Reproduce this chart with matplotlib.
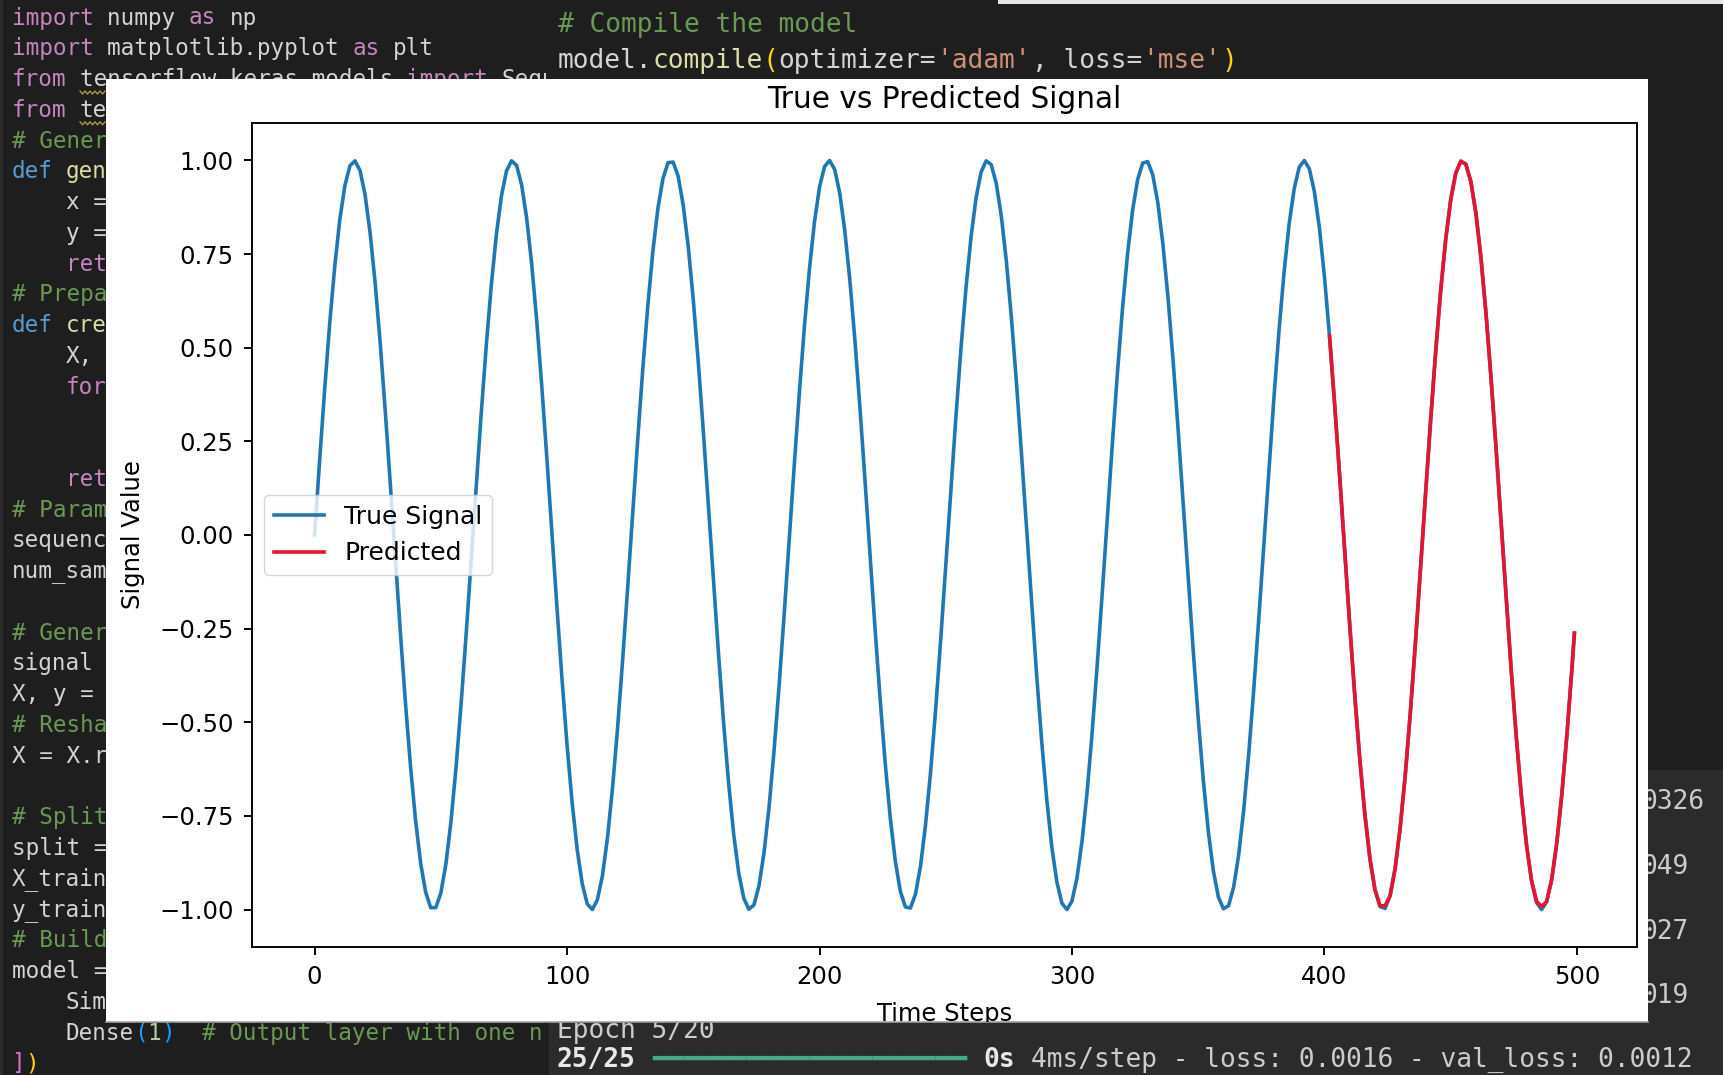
import numpy as np
import matplotlib
matplotlib.use("Agg")
import matplotlib.pyplot as plt
from matplotlib.patches import Rectangle
from matplotlib.transforms import Bbox

W, H = 1723, 1075

# signal every 2 time steps (plus the last step, 499)
time_steps = list(range(0, 500, 2)) + [499]
true_signal = [
    0.000, 0.199, 0.390, 0.566, 0.718, 0.843, 0.933, 0.986, 0.999, 0.973,
    0.908, 0.806, 0.672, 0.511, 0.330, 0.135, -0.065, -0.262, -0.449, -0.618,
    -0.762, -0.876, -0.954, -0.995, -0.995, -0.956, -0.879, -0.766, -0.623, -0.454,
    -0.268, -0.071, 0.129, 0.324, 0.506, 0.667, 0.802, 0.905, 0.972, 0.999,
    0.987, 0.935, 0.846, 0.723, 0.571, 0.396, 0.205, 0.006, -0.193, -0.385,
    -0.561, -0.714, -0.839, -0.931, -0.985, -1.000, -0.974, -0.910, -0.809, -0.676,
    -0.516, -0.335, -0.141, 0.059, 0.256, 0.444, 0.613, 0.758, 0.873, 0.952,
    0.994, 0.996, 0.958, 0.881, 0.770, 0.627, 0.460, 0.274, 0.077, -0.123,
    -0.318, -0.501, -0.663, -0.799, -0.903, -0.970, -0.999, -0.988, -0.937, -0.849,
    -0.727, -0.575, -0.401, -0.211, -0.012, 0.187, 0.379, 0.556, 0.710, 0.836,
    0.929, 0.984, 1.000, 0.976, 0.913, 0.813, 0.681, 0.521, 0.341, 0.147,
    -0.053, -0.251, -0.438, -0.608, -0.754, -0.870, -0.951, -0.993, -0.996, -0.959,
    -0.884, -0.773, -0.632, -0.465, -0.279, -0.083, 0.117, 0.313, 0.496, 0.659,
    0.795, 0.900, 0.969, 0.999, 0.989, 0.939, 0.852, 0.731, 0.580, 0.407,
    0.216, 0.018, -0.182, -0.374, -0.551, -0.706, -0.833, -0.926, -0.983, -1.000,
    -0.977, -0.915, -0.816, -0.685, -0.526, -0.346, -0.153, 0.047, 0.245, 0.433,
    0.604, 0.750, 0.867, 0.949, 0.993, 0.997, 0.961, 0.887, 0.777, 0.636,
    0.470, 0.285, 0.088, -0.112, -0.307, -0.490, -0.654, -0.792, -0.897, -0.967,
    -0.998, -0.990, -0.941, -0.855, -0.735, -0.585, -0.412, -0.222, -0.024, 0.176,
    0.368, 0.546, 0.702, 0.830, 0.924, 0.982, 1.000, 0.978, 0.917, 0.820,
    0.689, 0.531, 0.352, 0.159, -0.041, -0.239, -0.428, -0.599, -0.746, -0.864,
    -0.947, -0.992, -0.997, -0.963, -0.890, -0.781, -0.641, -0.475, -0.291, -0.094,
    0.106, 0.302, 0.485, 0.650, 0.788, 0.895, 0.966, 0.998, 0.990, 0.943,
    0.858, 0.739, 0.590, 0.417, 0.228, 0.030, -0.170, -0.363, -0.541, -0.697,
    -0.826, -0.922, -0.981, -1.000, -0.979, -0.920, -0.823, -0.694, -0.536, -0.358,
    -0.262,
]

pred_steps = list(range(402, 500, 2)) + [499]
predicted = [
    0.531, 0.352, 0.159, -0.041, -0.239, -0.428, -0.599, -0.746, -0.864,
    -0.947, -0.990, -0.990, -0.963, -0.890, -0.781, -0.641, -0.475, -0.291, -0.094,
    0.106, 0.302, 0.485, 0.650, 0.788, 0.895, 0.966, 0.998, 0.990, 0.943,
    0.858, 0.739, 0.590, 0.417, 0.228, 0.030, -0.170, -0.363, -0.541, -0.697,
    -0.826, -0.922, -0.978, -0.992, -0.979, -0.920, -0.823, -0.694, -0.536, -0.358,
    -0.262,
]

fig = plt.figure(figsize=(W / 100, H / 100), dpi=100)
fig.patch.set_facecolor("#1e1e1e")


def fx(px):
    return px / W


def fy(py):
    return 1 - py / H


def rect(x0, y0, x1, y1, color, z):
    fig.add_artist(Rectangle((fx(x0), fy(y1)), (x1 - x0) / W, (y1 - y0) / H,
                             transform=fig.transFigure, facecolor=color,
                             edgecolor="none", zorder=z))


MONO = "DejaVu Sans Mono"
WHITE = "#d4d4d4"
PURPLE = "#c586c0"
BLUE = "#569cd6"
YELLOW = "#dcdcaa"
GREEN = "#6a9955"
ORANGE = "#ce9178"
GOLD = "#ffd700"


def code_line(x0, y, parts, cw, clip_x=None, bold=()):
    size = cw * 72 / (0.6016 * 100)
    col = 0
    for text, color in parts:
        stripped = text.lstrip(" ")
        col += len(text) - len(stripped)
        t = fig.text(fx(x0 + col * cw), fy(y), stripped, color=color, fontsize=size,
                     family=MONO, ha="left", va="center", zorder=-1,
                     weight="bold" if stripped in bold else "normal")
        if clip_x is not None:
            t.set_clip_box(Bbox.from_extents(0, 0, clip_x, H))
            t.set_clip_on(True)
        col += len(stripped)


# editor / terminal backgrounds
rect(0, 0, 3, H, "#2a2a2a", -3)
rect(549, 770, W, H, "#2b2b2b", -3)
rect(998, 0, W, 3.5, "#e6e6e6", -3)

left_lines = {
    0: [("import", PURPLE), (" numpy ", WHITE), ("as", PURPLE), (" np", WHITE)],
    1: [("import", PURPLE), (" matplotlib.pyplot ", WHITE), ("as", PURPLE), (" plt", WHITE)],
    2: [("from", PURPLE), (" tensorflow.keras.models ", WHITE), ("import", PURPLE), (" Sequ", WHITE)],
    3: [("from", PURPLE), (" te", WHITE)],
    4: [("# Gener", GREEN)],
    5: [("def", BLUE), (" gen", YELLOW)],
    6: [("    x =", WHITE)],
    7: [("    y =", WHITE)],
    8: [("    ret", PURPLE)],
    9: [("# Prepa", GREEN)],
    10: [("def", BLUE), (" cre", YELLOW)],
    11: [("    X,", WHITE)],
    12: [("    for", PURPLE)],
    15: [("    ret", PURPLE)],
    16: [("# Param", GREEN)],
    17: [("sequenc", WHITE)],
    18: [("num_sam", WHITE)],
    20: [("# Gener", GREEN)],
    21: [("signal", WHITE)],
    22: [("X, y =", WHITE)],
    23: [("# Resha", GREEN)],
    24: [("X = X.r", WHITE)],
    26: [("# Split", GREEN)],
    27: [("split =", WHITE)],
    28: [("X_train", WHITE)],
    29: [("y_train", WHITE)],
    30: [("# Build", GREEN)],
    31: [("model =", WHITE)],
    32: [("    Sim", WHITE)],
    33: [("    Dense", WHITE), ("(", "#179fff"), ("1", "#b5cea8"), (")", "#179fff"),
         ("  # Output layer with one n", GREEN)],
    34: [("]", "#da70d6"), (")", GOLD)],
}
for i, parts in left_lines.items():
    code_line(11.5, 18.0 + 30.76 * i, parts, 13.62, clip_x=549)

# wavy underline under "te" of tensorflow
for yl in (18.0 + 30.76 * 2 + 13, 18.0 + 30.76 * 3 + 13):
    xs = np.arange(80, 106, 2.5)
    ys = yl + np.where(np.arange(len(xs)) % 2 == 0, -1.5, 1.5)
    fig.add_artist(plt.Line2D(fx(xs), fy(ys), transform=fig.transFigure,
                              color="#b8a24a", lw=0.9, zorder=-1))

code_line(557.5, 25.5, [("# Compile the model", GREEN)], 15.8)
code_line(557.5, 61, [("model.", WHITE), ("compile", YELLOW), ("(", GOLD),
                      ("optimizer=", WHITE), ("'adam'", ORANGE), (", loss=", WHITE),
                      ("'mse'", ORANGE), (")", GOLD)], 15.8)

TERM = "#cccccc"
code_line(557, 1030.5, [("Epoch 5/20", TERM)], 15.8)
code_line(557, 1060, [("25/25", "#e8e8e8"), (" " + "\u2501" * 20, "#3fae84"),
                      (" 0s", "#e8e8e8"),
                      (" 4ms/step - loss: 0.0016 - val_loss: 0.0012", TERM)],
          15.8, bold=("25/25", "0s"))
for yv, txt in zip((802, 867, 932, 996), ("0326", "049", "027", "019")):
    code_line(1641, yv, [(txt, TERM)], 15.8)

# white figure panel of the screenshot plot
panel = fig.add_axes([fx(105.5), fy(1022), (1648 - 105.5) / W, (1022 - 79) / H], zorder=1)
panel.set_facecolor("white")
panel.set_xticks([])
panel.set_yticks([])
for name, sp in panel.spines.items():
    sp.set_visible(name == "bottom")
panel.spines["bottom"].set_color("#a0a0a0")
panel.spines["bottom"].set_linewidth(1.2)

ax = fig.add_axes([fx(251.6), fy(947), (1637.4 - 251.6) / W, (947 - 123) / H], zorder=2)
ax.plot(time_steps, true_signal, color="#1f77b4", lw=2.6, label="True Signal")
ax.plot(pred_steps, predicted, color="#e8132e", lw=2.6, label="Predicted")
ax.set_title("True vs Predicted Signal", fontsize=21.3, pad=10.5)
ax.set_xlabel("Time Steps", fontsize=17.5, labelpad=9)
ax.set_ylabel("Signal Value", fontsize=17.5, labelpad=10)
ax.tick_params(labelsize=17.5, length=6, width=1.37, pad=7)
for sp in ax.spines.values():
    sp.set_linewidth(1.37)
ax.legend(loc="center left", fontsize=18)
ax.xaxis.label.set_clip_box(panel.bbox)
ax.xaxis.label.set_clip_on(True)

fig.savefig("out.png", dpi=100)
